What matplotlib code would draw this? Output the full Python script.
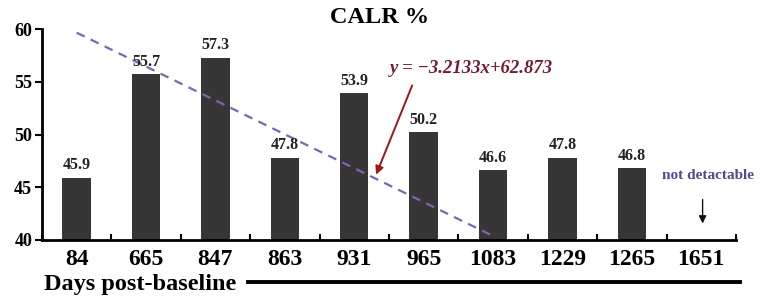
import numpy as np
import matplotlib.pyplot as plt
from matplotlib.lines import Line2D

days = ['84', '665', '847', '863', '931', '965', '1083', '1229', '1265', '1651']
calr = [45.9, 55.7, 57.3, 47.8, 53.9, 50.2, 46.6, 47.8, 46.8, None]  # last: not detectable
slope = -3.2133
intercept = 62.873
trend_x = [1, 7]   # trend line drawn from 1st to 7th sample (1-based)

serif = 'Liberation Serif'

fig = plt.figure(figsize=(7.63, 3.03), dpi=100)
ax = fig.add_axes([0.055, 0.208, 0.9095, 0.696])

x = np.arange(len(days))
vals = [v for v in calr if v is not None]
ax.bar(x[:len(vals)], vals, width=0.41, color='#363636', bottom=0)

for xi, v in zip(x, calr):
    if v is None:
        continue
    ax.text(xi, v + 0.45, f'{v:.1f}', ha='center', va='bottom', fontsize=11.5,
            fontweight='bold', family=serif, color='#222222')

# linear trend
tx = np.array(trend_x)
ax.plot(tx - 1, slope * tx + intercept, ls=(0, (4, 3)), color='#8262b8', lw=1.6)

ax.text(4.52, 56.3, 'y = \u22123.2133x+62.873', fontsize=13.5, fontweight='bold',
        fontstyle='italic', family=serif, color='#7a1a2c', va='center', ha='left')
ax.annotate('', xy=(4.30, 45.95), xytext=(4.85, 54.9),
            arrowprops=dict(arrowstyle='-|>', color='#a01515', lw=1.4, mutation_scale=12))

ax.text(9.1, 46.1, 'not detactable', fontsize=11, fontweight='bold', family=serif,
        color='#4a4a96', ha='center', va='center')
ax.annotate('', xy=(9.02, 41.3), xytext=(9.02, 44.1),
            arrowprops=dict(arrowstyle='-|>', color='#111111', lw=1.0, mutation_scale=11))

ax.set_ylim(40, 60)
ax.set_xlim(-0.5, len(days) - 0.5)
ax.set_yticks([40, 45, 50, 55, 60])
ax.set_yticklabels(['40', '45', '50', '55', '60'], fontsize=13, fontweight='bold', family=serif)

ax.set_xticks(x)
ax.set_xticklabels(days, fontsize=17, fontweight='bold', family=serif)
ax.tick_params(axis='x', length=0, pad=6.5)
ax.set_xticks(np.arange(len(days) + 1) - 0.5, minor=True)
ax.tick_params(axis='x', which='minor', direction='in', length=4, width=1.5)
ax.tick_params(axis='y', direction='out', length=5, width=1.5, pad=2)

for s in ['top', 'right']:
    ax.spines[s].set_visible(False)
for s in ['left', 'bottom']:
    ax.spines[s].set_linewidth(2)

fig.text(0.498, 0.943, 'CALR %', fontsize=17.5, fontweight='bold', family=serif,
         ha='center', va='center')
fig.text(0.058, 0.062, 'Days post-baseline', fontsize=17.5, fontweight='bold', family=serif,
         ha='left', va='center')
fig.add_artist(Line2D([0.325, 0.97], [0.07, 0.07], color='black', lw=2.8))

fig.savefig('out.png', dpi=100)
